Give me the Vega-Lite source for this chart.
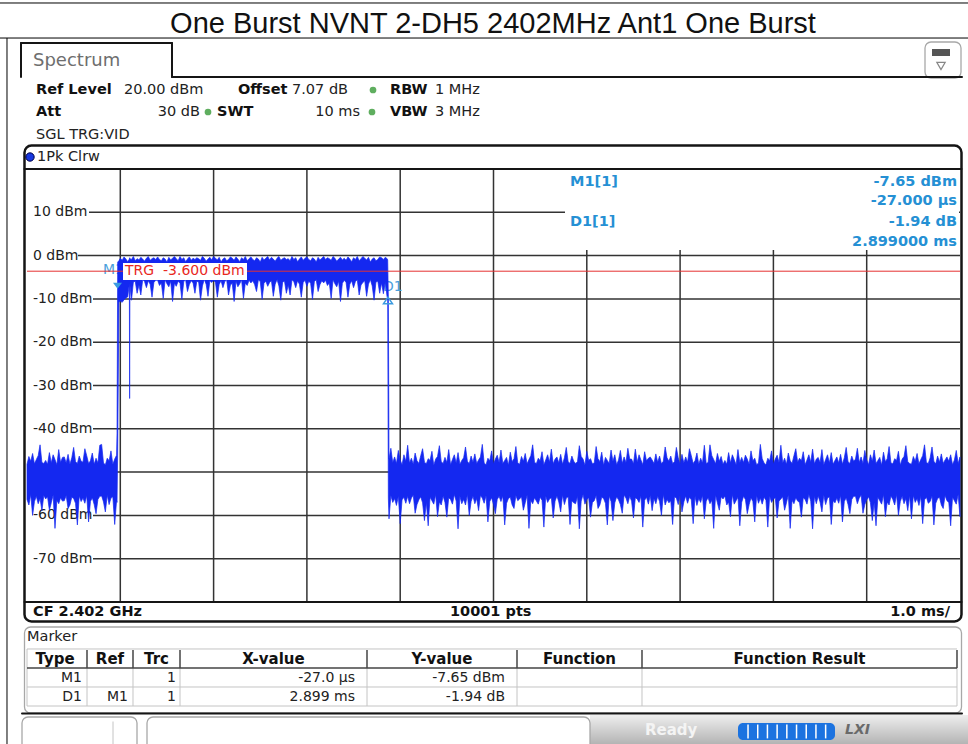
{
"$schema":"https://vega.github.io/schema/vega-lite/v6.json",
"width":933,"height":433,
"autosize":{"type":"none"},
"padding":{"left":27,"top":169,"right":8,"bottom":142},
"background":"white",
"config":{"view":{"stroke":null}},
"encoding":{
 "x":{"field":"x","type":"quantitative","scale":{"domain":[0,10],"nice":false,"zero":false},"axis":null},
 "y":{"field":"y","type":"quantitative","scale":{"domain":[-80,20],"nice":false,"zero":false},"axis":null}
},
"datasets":{
"trace":[
{"x":0,"y":-48.2,"y2":-56.3},{"x":0.02,"y":-46.4,"y2":-57.6},{"x":0.04,"y":-47.5,"y2":-55.2},{"x":0.06,"y":-45.7,"y2":-60},{"x":0.08,"y":-48.1,"y2":-56.8},{"x":0.1,"y":-47.1,"y2":-55.6},{"x":0.12,"y":-46.2,"y2":-57.3},{"x":0.14,"y":-43.7,"y2":-56.1},{"x":0.16,"y":-47.8,"y2":-58.9},{"x":0.18,"y":-48,"y2":-55.4},
{"x":0.2,"y":-47.3,"y2":-56.2},{"x":0.22,"y":-48.2,"y2":-55.7},{"x":0.24,"y":-45.5,"y2":-58.8},{"x":0.26,"y":-47.9,"y2":-57.1},{"x":0.28,"y":-46,"y2":-55.3},{"x":0.3,"y":-47.1,"y2":-63},{"x":0.32,"y":-48.3,"y2":-56.5},{"x":0.34,"y":-44.8,"y2":-57.3},{"x":0.36,"y":-47.8,"y2":-55.9},{"x":0.38,"y":-46.6,"y2":-56.7},
{"x":0.4,"y":-46.5,"y2":-56.6},{"x":0.42,"y":-47.9,"y2":-55.4},{"x":0.44,"y":-45.9,"y2":-58.4},{"x":0.46,"y":-48.2,"y2":-57.6},{"x":0.48,"y":-46.7,"y2":-55.8},{"x":0.5,"y":-44.3,"y2":-56.1},{"x":0.52,"y":-47.6,"y2":-57.2},{"x":0.54,"y":-48,"y2":-62.2},{"x":0.56,"y":-46.3,"y2":-55.5},{"x":0.58,"y":-47.5,"y2":-56.8},
{"x":0.6,"y":-47.7,"y2":-56},{"x":0.62,"y":-44.6,"y2":-57.2},{"x":0.64,"y":-46.2,"y2":-55.4},{"x":0.66,"y":-48,"y2":-61.5},{"x":0.68,"y":-47.4,"y2":-56.8},{"x":0.7,"y":-45.6,"y2":-55.9},{"x":0.72,"y":-48.2,"y2":-57.5},{"x":0.74,"y":-46.8,"y2":-59.6},{"x":0.76,"y":-47.9,"y2":-56.3},{"x":0.78,"y":-43.8,"y2":-55.6},
{"x":0.8,"y":-43.6,"y2":-55.5},{"x":0.82,"y":-47.9,"y2":-56.9},{"x":0.84,"y":-48.3,"y2":-59.2},{"x":0.86,"y":-46.8,"y2":-55.3},{"x":0.88,"y":-47.4,"y2":-57.5},{"x":0.9,"y":-45.1,"y2":-56},{"x":0.92,"y":-48.2,"y2":-55.7},{"x":0.94,"y":-47,"y2":-62.1},{"x":0.96,"y":-46.1,"y2":-56.6},
{"x":0.965,"y":-41,"y2":-57},{"x":0.972,"y":-1.5,"y2":-45},{"x":0.985,"y":-1.2,"y2":-10.8},
{"x":1.0,"y":-0.6,"y2":-10.5},{"x":1.02,"y":-1.1,"y2":-10.8},{"x":1.04,"y":-0.3,"y2":-10.2},{"x":1.06,"y":-0.8,"y2":-9.8},{"x":1.08,"y":-1.4,"y2":-9.5},{"x":1.097,"y":-0.8,"y2":-6.5},{"x":1.1,"y":-0.5,"y2":-33},{"x":1.103,"y":-0.7,"y2":-6.8},{"x":1.12,"y":-0.9,"y2":-10.3},{"x":1.14,"y":-0.2,"y2":-6.1},{"x":1.16,"y":-1.2,"y2":-5.9},{"x":1.18,"y":-0.7,"y2":-8.7},
{"x":1.2,"y":-1.0,"y2":-6.8},{"x":1.22,"y":-0.4,"y2":-9.1},{"x":1.24,"y":-0.8,"y2":-5.6},{"x":1.26,"y":-1.3,"y2":-6.0},{"x":1.28,"y":-0.6,"y2":-7.4},{"x":1.3,"y":-0.2,"y2":-5.8},{"x":1.32,"y":-1.1,"y2":-6.6},{"x":1.34,"y":-0.7,"y2":-9.6},{"x":1.36,"y":-0.5,"y2":-6.2},{"x":1.38,"y":-0.9,"y2":-5.7},
{"x":1.4,"y":-0.3,"y2":-5.7},{"x":1.42,"y":-0.9,"y2":-6.9},{"x":1.44,"y":-1.2,"y2":-6.3},{"x":1.46,"y":-0.5,"y2":-9.9},{"x":1.48,"y":-0.8,"y2":-5.6},{"x":1.5,"y":-1.5,"y2":-6.5},{"x":1.52,"y":-0.4,"y2":-7.2},{"x":1.54,"y":-1.0,"y2":-5.9},{"x":1.56,"y":-0.6,"y2":-10.6},{"x":1.58,"y":-0.2,"y2":-6.4},
{"x":1.6,"y":-0.7,"y2":-7.1},{"x":1.62,"y":-1.2,"y2":-5.9},{"x":1.64,"y":-0.2,"y2":-6.4},{"x":1.66,"y":-0.9,"y2":-10.1},{"x":1.68,"y":-0.5,"y2":-6.0},{"x":1.7,"y":-1.4,"y2":-5.6},{"x":1.72,"y":-0.8,"y2":-8.3},{"x":1.74,"y":-0.3,"y2":-6.7},{"x":1.76,"y":-1.1,"y2":-5.8},{"x":1.78,"y":-0.6,"y2":-6.3},
{"x":1.8,"y":-0.9,"y2":-8.7},{"x":1.82,"y":-0.5,"y2":-5.9},{"x":1.84,"y":-0.7,"y2":-6.1},{"x":1.86,"y":-1.1,"y2":-10.3},{"x":1.88,"y":-0.2,"y2":-7.0},{"x":1.9,"y":-0.6,"y2":-5.5},{"x":1.92,"y":-1.3,"y2":-6.6},{"x":1.94,"y":-0.8,"y2":-9.4},{"x":1.96,"y":-0.4,"y2":-5.8},{"x":1.98,"y":-1.0,"y2":-6.2},
{"x":2.0,"y":-0.2,"y2":-5.7},{"x":2.02,"y":-0.6,"y2":-6.2},{"x":2.04,"y":-1.0,"y2":-9.6},{"x":2.06,"y":-0.4,"y2":-6.6},{"x":2.08,"y":-1.5,"y2":-5.8},{"x":2.1,"y":-0.8,"y2":-7.4},{"x":2.12,"y":-0.5,"y2":-6.0},{"x":2.14,"y":-1.2,"y2":-5.6},{"x":2.16,"y":-0.9,"y2":-9.1},{"x":2.18,"y":-0.3,"y2":-6.8},
{"x":2.2,"y":-0.6,"y2":-6.4},{"x":2.22,"y":-1.1,"y2":-10.6},{"x":2.24,"y":-0.3,"y2":-5.9},{"x":2.26,"y":-0.8,"y2":-7.2},{"x":2.28,"y":-1.4,"y2":-6.5},{"x":2.3,"y":-0.5,"y2":-5.6},{"x":2.32,"y":-0.9,"y2":-9.9},{"x":2.34,"y":-0.2,"y2":-6.3},{"x":2.36,"y":-1.2,"y2":-6.9},{"x":2.38,"y":-0.7,"y2":-5.7},
{"x":2.4,"y":-0.3,"y2":-6.3},{"x":2.42,"y":-0.9,"y2":-5.8},{"x":2.44,"y":-1.2,"y2":-6.7},{"x":2.46,"y":-0.5,"y2":-8.3},{"x":2.48,"y":-0.8,"y2":-5.6},{"x":2.5,"y":-1.5,"y2":-6.0},{"x":2.52,"y":-0.4,"y2":-10.1},{"x":2.54,"y":-1.0,"y2":-6.4},{"x":2.56,"y":-0.6,"y2":-5.9},{"x":2.58,"y":-0.2,"y2":-7.1},
{"x":2.6,"y":-1.0,"y2":-6.2},{"x":2.62,"y":-0.4,"y2":-5.8},{"x":2.64,"y":-0.8,"y2":-9.4},{"x":2.66,"y":-1.3,"y2":-6.6},{"x":2.68,"y":-0.6,"y2":-5.5},{"x":2.7,"y":-0.2,"y2":-7.0},{"x":2.72,"y":-1.1,"y2":-10.3},{"x":2.74,"y":-0.7,"y2":-6.1},{"x":2.76,"y":-0.5,"y2":-5.9},{"x":2.78,"y":-0.9,"y2":-8.7},
{"x":2.8,"y":-0.7,"y2":-6.8},{"x":2.82,"y":-1.2,"y2":-9.1},{"x":2.84,"y":-0.2,"y2":-5.6},{"x":2.86,"y":-0.9,"y2":-6.0},{"x":2.88,"y":-0.5,"y2":-7.4},{"x":2.9,"y":-1.4,"y2":-5.8},{"x":2.92,"y":-0.8,"y2":-6.6},{"x":2.94,"y":-0.3,"y2":-9.6},{"x":2.96,"y":-1.1,"y2":-6.2},{"x":2.98,"y":-0.6,"y2":-5.7},
{"x":3.0,"y":-0.3,"y2":-7.1},{"x":3.02,"y":-0.9,"y2":-5.9},{"x":3.04,"y":-1.2,"y2":-6.4},{"x":3.06,"y":-0.5,"y2":-10.1},{"x":3.08,"y":-0.8,"y2":-6.0},{"x":3.1,"y":-1.5,"y2":-5.6},{"x":3.12,"y":-0.4,"y2":-8.3},{"x":3.14,"y":-1.0,"y2":-6.7},{"x":3.16,"y":-0.6,"y2":-5.8},{"x":3.18,"y":-0.2,"y2":-6.3},
{"x":3.2,"y":-0.9,"y2":-5.7},{"x":3.22,"y":-0.5,"y2":-6.9},{"x":3.24,"y":-0.7,"y2":-6.3},{"x":3.26,"y":-1.1,"y2":-9.9},{"x":3.28,"y":-0.2,"y2":-5.6},{"x":3.3,"y":-0.6,"y2":-6.5},{"x":3.32,"y":-1.3,"y2":-7.2},{"x":3.34,"y":-0.8,"y2":-5.9},{"x":3.36,"y":-0.4,"y2":-10.6},{"x":3.38,"y":-1.0,"y2":-6.4},
{"x":3.4,"y":-0.6,"y2":-5.7},{"x":3.42,"y":-1.1,"y2":-6.2},{"x":3.44,"y":-0.3,"y2":-9.6},{"x":3.46,"y":-0.8,"y2":-6.6},{"x":3.48,"y":-1.4,"y2":-5.8},{"x":3.5,"y":-0.5,"y2":-7.4},{"x":3.52,"y":-0.9,"y2":-6.0},{"x":3.54,"y":-0.2,"y2":-5.6},{"x":3.56,"y":-1.2,"y2":-9.1},{"x":3.58,"y":-0.7,"y2":-6.8},
{"x":3.6,"y":-0.2,"y2":-6.2},{"x":3.62,"y":-0.6,"y2":-5.8},{"x":3.64,"y":-1.0,"y2":-9.4},{"x":3.66,"y":-0.4,"y2":-6.6},{"x":3.68,"y":-1.5,"y2":-5.5},{"x":3.7,"y":-0.8,"y2":-7.0},{"x":3.72,"y":-0.5,"y2":-10.3},{"x":3.74,"y":-1.2,"y2":-6.1},{"x":3.76,"y":-0.9,"y2":-5.9},{"x":3.78,"y":-0.3,"y2":-8.7},
{"x":3.8,"y":-0.5,"y2":-6.3},{"x":3.82,"y":-0.9,"y2":-8.8},{"x":3.84,"y":-0.4,"y2":-6.0},{"x":3.86,"y":-0.7,"y2":-9.6},{"x":3.866,"y":-1.0,"y2":-9.7},{"x":3.873,"y":-9.8,"y2":-56},
{"x":3.88,"y":-47,"y2":-60.8},{"x":3.9,"y":-44.5,"y2":-55.4},{"x":3.92,"y":-47.8,"y2":-57},{"x":3.94,"y":-46.5,"y2":-56.1},{"x":3.96,"y":-48,"y2":-57.7},{"x":3.98,"y":-45,"y2":-55.6},{"x":4.0,"y":-47.2,"y2":-61.9},{"x":4.02,"y":-48.3,"y2":-56.4},{"x":4.04,"y":-46,"y2":-55.8},{"x":4.06,"y":-47.5,"y2":-57.2},
{"x":4.08,"y":-43.8,"y2":-55.6},{"x":4.1,"y":-47.9,"y2":-57.3},{"x":4.12,"y":-46.8,"y2":-56},{"x":4.14,"y":-48.2,"y2":-55.3},{"x":4.16,"y":-45.6,"y2":-59.5},{"x":4.18,"y":-47.4,"y2":-57.5},{"x":4.2,"y":-48,"y2":-56.4},{"x":4.22,"y":-46.2,"y2":-55.7},{"x":4.24,"y":-44.6,"y2":-57.1},{"x":4.26,"y":-47.7,"y2":-61.2},
{"x":4.28,"y":-48.1,"y2":-57},{"x":4.3,"y":-46.9,"y2":-62.4},{"x":4.32,"y":-47.3,"y2":-55.8},{"x":4.34,"y":-45.2,"y2":-56.6},{"x":4.36,"y":-48.4,"y2":-57.4},{"x":4.38,"y":-47,"y2":-55.2},{"x":4.4,"y":-46.4,"y2":-60.3},{"x":4.42,"y":-43.9,"y2":-56.9},{"x":4.44,"y":-47.6,"y2":-57.6},{"x":4.46,"y":-48,"y2":-55.5},
{"x":4.48,"y":-46.6,"y2":-57},{"x":4.5,"y":-47.8,"y2":-60.4},{"x":4.52,"y":-44.8,"y2":-55.9},{"x":4.54,"y":-48.3,"y2":-56.3},{"x":4.56,"y":-47.1,"y2":-57.4},{"x":4.58,"y":-46,"y2":-55.2},{"x":4.6,"y":-47.9,"y2":-56.7},{"x":4.62,"y":-45.5,"y2":-63.1},{"x":4.64,"y":-48.2,"y2":-55.6},{"x":4.66,"y":-47.3,"y2":-57.3},
{"x":4.68,"y":-46.7,"y2":-56.3},{"x":4.7,"y":-44.2,"y2":-57.6},{"x":4.72,"y":-47.5,"y2":-55.2},{"x":4.74,"y":-48.1,"y2":-60},{"x":4.76,"y":-46.3,"y2":-56.8},{"x":4.78,"y":-47.7,"y2":-55.6},{"x":4.8,"y":-45.8,"y2":-57.3},{"x":4.82,"y":-48,"y2":-56.1},{"x":4.84,"y":-47.2,"y2":-58.9},{"x":4.86,"y":-46.5,"y2":-55.4},
{"x":4.88,"y":-43.6,"y2":-56},{"x":4.9,"y":-47.9,"y2":-57.2},{"x":4.92,"y":-48.3,"y2":-55.4},{"x":4.94,"y":-46.8,"y2":-61.5},{"x":4.96,"y":-47.4,"y2":-56.8},{"x":4.98,"y":-45.1,"y2":-55.9},{"x":5.0,"y":-48.2,"y2":-57.5},{"x":5.02,"y":-47,"y2":-59.6},{"x":5.04,"y":-46.1,"y2":-56.3},{"x":5.06,"y":-47.8,"y2":-55.6},
{"x":5.08,"y":-44.9,"y2":-56.8},{"x":5.1,"y":-48,"y2":-55.5},{"x":5.12,"y":-47.3,"y2":-62.2},{"x":5.14,"y":-46.6,"y2":-57.2},{"x":5.16,"y":-48.4,"y2":-56.1},{"x":5.18,"y":-45.4,"y2":-55.8},{"x":5.2,"y":-47.6,"y2":-57.6},{"x":5.22,"y":-46.9,"y2":-58.4},{"x":5.24,"y":-44.1,"y2":-55.4},{"x":5.26,"y":-47.9,"y2":-56.6},
{"x":5.28,"y":-48.2,"y2":-56.2},{"x":5.3,"y":-46.4,"y2":-55.7},{"x":5.32,"y":-47.5,"y2":-58.8},{"x":5.34,"y":-45.7,"y2":-57.1},{"x":5.36,"y":-48.1,"y2":-55.3},{"x":5.38,"y":-47.1,"y2":-63},{"x":5.4,"y":-46.2,"y2":-56.5},{"x":5.42,"y":-43.7,"y2":-57.3},{"x":5.44,"y":-47.8,"y2":-55.9},{"x":5.46,"y":-48,"y2":-56.7},
{"x":5.48,"y":-46.8,"y2":-57.4},{"x":5.5,"y":-47.4,"y2":-55.8},{"x":5.52,"y":-45.3,"y2":-56.5},{"x":5.54,"y":-48.3,"y2":-62.7},{"x":5.56,"y":-47.2,"y2":-55.5},{"x":5.58,"y":-46,"y2":-57},{"x":5.6,"y":-47.7,"y2":-56.2},{"x":5.62,"y":-44.7,"y2":-55.9},{"x":5.64,"y":-48.1,"y2":-60.6},{"x":5.66,"y":-47,"y2":-56.7},
{"x":5.68,"y":-46.5,"y2":-55.5},{"x":5.7,"y":-47.9,"y2":-56.9},{"x":5.72,"y":-45.9,"y2":-59.2},{"x":5.74,"y":-48.2,"y2":-55.3},{"x":5.76,"y":-46.7,"y2":-57.5},{"x":5.78,"y":-44.3,"y2":-56},{"x":5.8,"y":-47.6,"y2":-55.7},{"x":5.82,"y":-48,"y2":-62.1},{"x":5.84,"y":-46.3,"y2":-56.6},{"x":5.86,"y":-47.5,"y2":-57.1},
{"x":5.88,"y":-48,"y2":-57.3},{"x":5.9,"y":-47.6,"y2":-55.6},{"x":5.92,"y":-43.9,"y2":-63.1},{"x":5.94,"y":-46.4,"y2":-56.7},{"x":5.96,"y":-47,"y2":-55.2},{"x":5.98,"y":-48.4,"y2":-57.4},{"x":6.0,"y":-45.2,"y2":-56.3},{"x":6.02,"y":-47.3,"y2":-55.9},{"x":6.04,"y":-46.9,"y2":-60.4},{"x":6.06,"y":-48.1,"y2":-57},
{"x":6.08,"y":-47.9,"y2":-56.6},{"x":6.1,"y":-44.1,"y2":-55.4},{"x":6.12,"y":-46.9,"y2":-58.4},{"x":6.14,"y":-47.6,"y2":-57.6},{"x":6.16,"y":-45.4,"y2":-55.8},{"x":6.18,"y":-48.4,"y2":-56.1},{"x":6.2,"y":-46.6,"y2":-57.2},{"x":6.22,"y":-47.3,"y2":-62.2},{"x":6.24,"y":-48,"y2":-55.5},{"x":6.26,"y":-44.9,"y2":-56.8},
{"x":6.28,"y":-47.5,"y2":-61.2},{"x":6.3,"y":-46,"y2":-57.1},{"x":6.32,"y":-48.3,"y2":-55.7},{"x":6.34,"y":-47.2,"y2":-56.4},{"x":6.36,"y":-45,"y2":-57.5},{"x":6.38,"y":-48,"y2":-59.5},{"x":6.4,"y":-46.5,"y2":-55.3},{"x":6.42,"y":-47.8,"y2":-56},{"x":6.44,"y":-44.5,"y2":-57.3},{"x":6.46,"y":-47,"y2":-55.6},
{"x":6.48,"y":-47,"y2":-56.7},{"x":6.5,"y":-48.1,"y2":-60.6},{"x":6.52,"y":-44.7,"y2":-55.9},{"x":6.54,"y":-47.7,"y2":-56.2},{"x":6.56,"y":-46,"y2":-57},{"x":6.58,"y":-47.2,"y2":-55.5},{"x":6.6,"y":-48.3,"y2":-62.7},{"x":6.62,"y":-45.3,"y2":-56.5},{"x":6.64,"y":-47.4,"y2":-55.8},{"x":6.66,"y":-46.8,"y2":-57.4},
{"x":6.68,"y":-46.5,"y2":-55.4},{"x":6.7,"y":-47.2,"y2":-58.9},{"x":6.72,"y":-48,"y2":-56.1},{"x":6.74,"y":-45.8,"y2":-57.3},{"x":6.76,"y":-47.7,"y2":-55.6},{"x":6.78,"y":-46.3,"y2":-56.8},{"x":6.8,"y":-48.1,"y2":-60},{"x":6.82,"y":-47.5,"y2":-55.2},{"x":6.84,"y":-44.2,"y2":-57.6},{"x":6.86,"y":-46.7,"y2":-56.3},
{"x":6.88,"y":-47.5,"y2":-57.1},{"x":6.9,"y":-46.3,"y2":-56.6},{"x":6.92,"y":-48,"y2":-62.1},{"x":6.94,"y":-47.6,"y2":-55.7},{"x":6.96,"y":-44.3,"y2":-56},{"x":6.98,"y":-46.7,"y2":-57.5},{"x":7.0,"y":-48.2,"y2":-55.3},{"x":7.02,"y":-45.9,"y2":-59.2},{"x":7.04,"y":-47.9,"y2":-56.9},{"x":7.06,"y":-46.5,"y2":-55.5},
{"x":7.08,"y":-47.7,"y2":-57.2},{"x":7.1,"y":-44.6,"y2":-55.8},{"x":7.12,"y":-46.2,"y2":-56.4},{"x":7.14,"y":-48,"y2":-61.9},{"x":7.16,"y":-47.4,"y2":-55.6},{"x":7.18,"y":-45.6,"y2":-57.7},{"x":7.2,"y":-48.2,"y2":-56.1},{"x":7.22,"y":-46.8,"y2":-57},{"x":7.24,"y":-47.9,"y2":-55.4},{"x":7.26,"y":-43.8,"y2":-60.8},
{"x":7.28,"y":-48,"y2":-56.7},{"x":7.3,"y":-47.8,"y2":-55.9},{"x":7.32,"y":-43.7,"y2":-57.3},{"x":7.34,"y":-46.2,"y2":-56.5},{"x":7.36,"y":-47.1,"y2":-63},{"x":7.38,"y":-48.1,"y2":-55.3},{"x":7.4,"y":-45.7,"y2":-57.1},{"x":7.42,"y":-47.5,"y2":-58.8},{"x":7.44,"y":-46.4,"y2":-55.7},{"x":7.46,"y":-48.2,"y2":-56.2},
{"x":7.48,"y":-47.3,"y2":-55.5},{"x":7.5,"y":-48.2,"y2":-57.6},{"x":7.52,"y":-45.5,"y2":-56.9},{"x":7.54,"y":-47.9,"y2":-60.3},{"x":7.56,"y":-46,"y2":-55.2},{"x":7.58,"y":-47.1,"y2":-57.4},{"x":7.6,"y":-48.3,"y2":-56.6},{"x":7.62,"y":-44.8,"y2":-55.8},{"x":7.64,"y":-47.8,"y2":-62.4},{"x":7.66,"y":-46.6,"y2":-57},
{"x":7.68,"y":-47.8,"y2":-55.6},{"x":7.7,"y":-46.1,"y2":-56.3},{"x":7.72,"y":-47,"y2":-59.6},{"x":7.74,"y":-48.2,"y2":-57.5},{"x":7.76,"y":-45.1,"y2":-55.9},{"x":7.78,"y":-47.4,"y2":-56.8},{"x":7.8,"y":-46.8,"y2":-61.5},{"x":7.82,"y":-48.3,"y2":-55.4},{"x":7.84,"y":-47.9,"y2":-57.2},{"x":7.86,"y":-43.6,"y2":-56},
{"x":7.88,"y":-46.9,"y2":-57.4},{"x":7.9,"y":-47.9,"y2":-55.8},{"x":7.92,"y":-48.3,"y2":-56.5},{"x":7.94,"y":-46.8,"y2":-62.7},{"x":7.96,"y":-47.4,"y2":-55.5},{"x":7.98,"y":-45.1,"y2":-57},{"x":8.0,"y":-48.2,"y2":-56.2},{"x":8.02,"y":-47,"y2":-55.9},{"x":8.04,"y":-46.1,"y2":-60.6},{"x":8.06,"y":-47.8,"y2":-56.7},
{"x":8.08,"y":-43.8,"y2":-56.2},{"x":8.1,"y":-47.9,"y2":-55.7},{"x":8.12,"y":-46.8,"y2":-58.8},{"x":8.14,"y":-48.2,"y2":-57.1},{"x":8.16,"y":-45.6,"y2":-55.3},{"x":8.18,"y":-47.4,"y2":-63},{"x":8.2,"y":-48,"y2":-56.5},{"x":8.22,"y":-46.2,"y2":-57.3},{"x":8.24,"y":-44.6,"y2":-55.9},{"x":8.26,"y":-47.7,"y2":-56.7},
{"x":8.28,"y":-46.8,"y2":-57},{"x":8.3,"y":-47.4,"y2":-60.4},{"x":8.32,"y":-45.3,"y2":-55.9},{"x":8.34,"y":-48.3,"y2":-56.3},{"x":8.36,"y":-47.2,"y2":-57.4},{"x":8.38,"y":-46,"y2":-55.2},{"x":8.4,"y":-47.7,"y2":-56.7},{"x":8.42,"y":-44.7,"y2":-63.1},{"x":8.44,"y":-48.1,"y2":-55.6},{"x":8.46,"y":-47,"y2":-57.3},
{"x":8.48,"y":-46.6,"y2":-55.5},{"x":8.5,"y":-47.8,"y2":-56.9},{"x":8.52,"y":-44.8,"y2":-59.2},{"x":8.54,"y":-48.3,"y2":-55.3},{"x":8.56,"y":-47.1,"y2":-57.5},{"x":8.58,"y":-46,"y2":-56},{"x":8.6,"y":-47.9,"y2":-55.7},{"x":8.62,"y":-45.5,"y2":-62.1},{"x":8.64,"y":-48.2,"y2":-56.6},{"x":8.66,"y":-47.3,"y2":-57.1},
{"x":8.68,"y":-46.5,"y2":-56},{"x":8.7,"y":-47.9,"y2":-57.2},{"x":8.72,"y":-45.9,"y2":-55.4},{"x":8.74,"y":-48.2,"y2":-61.5},{"x":8.76,"y":-46.7,"y2":-56.8},{"x":8.78,"y":-44.3,"y2":-55.9},{"x":8.8,"y":-47.6,"y2":-57.5},{"x":8.82,"y":-48,"y2":-59.6},{"x":8.84,"y":-46.3,"y2":-56.3},{"x":8.86,"y":-47.5,"y2":-55.6},
{"x":8.88,"y":-47,"y2":-55.6},{"x":8.9,"y":-44.5,"y2":-57.3},{"x":8.92,"y":-47.8,"y2":-56},{"x":8.94,"y":-46.5,"y2":-55.3},{"x":8.96,"y":-48,"y2":-59.5},{"x":8.98,"y":-45,"y2":-57.5},{"x":9.0,"y":-47.2,"y2":-56.4},{"x":9.02,"y":-48.3,"y2":-55.7},{"x":9.04,"y":-46,"y2":-57.1},{"x":9.06,"y":-47.5,"y2":-61.2},
{"x":9.08,"y":-44.9,"y2":-57},{"x":9.1,"y":-48,"y2":-62.4},{"x":9.12,"y":-47.3,"y2":-55.8},{"x":9.14,"y":-46.6,"y2":-56.6},{"x":9.16,"y":-48.4,"y2":-57.4},{"x":9.18,"y":-45.4,"y2":-55.2},{"x":9.2,"y":-47.6,"y2":-60.3},{"x":9.22,"y":-46.9,"y2":-56.9},{"x":9.24,"y":-44.1,"y2":-57.6},{"x":9.26,"y":-47.9,"y2":-55.5},
{"x":9.28,"y":-48.1,"y2":-56.3},{"x":9.3,"y":-46.9,"y2":-57.6},{"x":9.32,"y":-47.3,"y2":-55.2},{"x":9.34,"y":-45.2,"y2":-60},{"x":9.36,"y":-48.4,"y2":-56.8},{"x":9.38,"y":-47,"y2":-55.6},{"x":9.4,"y":-46.4,"y2":-57.3},{"x":9.42,"y":-43.9,"y2":-56.1},{"x":9.44,"y":-47.6,"y2":-58.9},{"x":9.46,"y":-48,"y2":-55.4},
{"x":9.48,"y":-48.2,"y2":-60.8},{"x":9.5,"y":-46.4,"y2":-55.4},{"x":9.52,"y":-47.5,"y2":-57},{"x":9.54,"y":-45.7,"y2":-56.1},{"x":9.56,"y":-48.1,"y2":-57.7},{"x":9.58,"y":-47.1,"y2":-55.6},{"x":9.6,"y":-46.2,"y2":-61.9},{"x":9.62,"y":-43.7,"y2":-56.4},{"x":9.64,"y":-47.8,"y2":-55.8},{"x":9.66,"y":-48,"y2":-57.2},
{"x":9.68,"y":-46.7,"y2":-56.8},{"x":9.7,"y":-44.2,"y2":-55.5},{"x":9.72,"y":-47.5,"y2":-62.2},{"x":9.74,"y":-48.1,"y2":-57.2},{"x":9.76,"y":-46.3,"y2":-56.1},{"x":9.78,"y":-47.7,"y2":-55.8},{"x":9.8,"y":-45.8,"y2":-57.6},{"x":9.82,"y":-48,"y2":-58.4},{"x":9.84,"y":-47.2,"y2":-55.4},{"x":9.86,"y":-46.5,"y2":-56.6},
{"x":9.88,"y":-47.5,"y2":-57},{"x":9.9,"y":-46,"y2":-62.4},{"x":9.92,"y":-48.3,"y2":-55.8},{"x":9.94,"y":-47.2,"y2":-56.6},{"x":9.96,"y":-45,"y2":-57.4},{"x":9.98,"y":-48,"y2":-55.2},{"x":10.0,"y":-46.5,"y2":-60.3}
],
"grid":[
{"x":1,"x2":1,"y":20,"y2":-80},{"x":2,"x2":2,"y":20,"y2":-80},{"x":3,"x2":3,"y":20,"y2":-80},{"x":4,"x2":4,"y":20,"y2":-80},{"x":5,"x2":5,"y":20,"y2":-80},{"x":6,"x2":6,"y":20,"y2":-80},{"x":7,"x2":7,"y":20,"y2":-80},{"x":8,"x2":8,"y":20,"y2":-80},{"x":9,"x2":9,"y":20,"y2":-80},
{"x":0.6645,"x2":10,"y":10,"y2":10},{"x":0.5466,"x2":10,"y":0,"y2":0},{"x":0.7074,"x2":10,"y":-10,"y2":-10},{"x":0.7074,"x2":10,"y":-20,"y2":-20},{"x":0.7074,"x2":10,"y":-30,"y2":-30},{"x":0.7074,"x2":10,"y":-40,"y2":-40},{"x":0.7074,"x2":10,"y":-50,"y2":-50},{"x":0.7074,"x2":10,"y":-60,"y2":-60},{"x":0.7074,"x2":10,"y":-70,"y2":-70}
],
"yLabels":[
{"x":0.0643,"y":10,"text":"10 dBm"},{"x":0.0643,"y":0,"text":"0 dBm"},{"x":0.0643,"y":-10,"text":"-10 dBm"},{"x":0.0643,"y":-20,"text":"-20 dBm"},{"x":0.0643,"y":-30,"text":"-30 dBm"},{"x":0.0643,"y":-40,"text":"-40 dBm"},{"x":0.0643,"y":-50,"text":"-50 dBm"},{"x":0.0643,"y":-60,"text":"-60 dBm"},{"x":0.0643,"y":-70,"text":"-70 dBm"}
],
"infoBox":[{"x":5.7663,"x2":9.9893,"y":19.77,"y2":1.29}],
"thinLines":[
{"x":-0.2894,"x2":10.0858,"y":58.34,"y2":58.34},{"x":-0.2894,"x2":10.0858,"y":50.25,"y2":50.25},{"x":-0.2144,"x2":-0.2144,"y":50.25,"y2":-112.8}
],
"darkLines":[
{"x":-0.0643,"x2":-0.0643,"y":41.25,"y2":49.1},{"x":-0.0643,"x2":1.5541,"y":49.1,"y2":49.1},{"x":1.5541,"x2":1.5541,"y":49.1,"y2":41.25},{"x":1.5541,"x2":10.0214,"y":41.25,"y2":41.25},
{"x":-0.0268,"x2":10.0161,"y":20,"y2":20},{"x":-0.0268,"x2":10.0161,"y":-80,"y2":-80},{"x":-0.0536,"x2":10.0214,"y":-105.75,"y2":-105.75}
],
"panelBox":[{"x":-0.0268,"x2":10.0161,"y":25.43,"y2":-84.5}],
"lightBoxes":[
{"x":-0.0268,"x2":10.0161,"y":-85.77,"y2":-105.64},
{"x":-0.0536,"x2":1.179,"y":-106.56,"y2":-115},
{"x":1.2862,"x2":6.0343,"y":-106.56,"y2":-115},
{"x":9.6249,"x2":10.0107,"y":49.33,"y2":41.02}
],
"statusBg":[{"x":6.0343,"x2":10.0858,"y":-106.1,"y2":-112.8}],
"progress":[{"x":7.6206,"x2":8.6602,"y":-107.94,"y2":-111.87}],
"progSep":[
{"x":7.728,"x2":7.728,"y":-108.3,"y2":-111.5},{"x":7.832,"x2":7.832,"y":-108.3,"y2":-111.5},{"x":7.936,"x2":7.936,"y":-108.3,"y2":-111.5},{"x":8.04,"x2":8.04,"y":-108.3,"y2":-111.5},{"x":8.144,"x2":8.144,"y":-108.3,"y2":-111.5},{"x":8.248,"x2":8.248,"y":-108.3,"y2":-111.5},{"x":8.352,"x2":8.352,"y":-108.3,"y2":-111.5},{"x":8.456,"x2":8.456,"y":-108.3,"y2":-111.5},{"x":8.56,"x2":8.56,"y":-108.3,"y2":-111.5}
],
"iconBar":[{"x":9.7,"x2":9.8928,"y":47.71,"y2":46.1}],
"iconTri":[{"x":9.7964,"y":43.79}],
"tableDark":[
{"x":0.6431,"x2":0.6431,"y":-91.09,"y2":-95.24},{"x":1.1361,"x2":1.1361,"y":-91.09,"y2":-95.24},{"x":1.6399,"x2":1.6399,"y":-91.09,"y2":-95.24},{"x":3.6442,"x2":3.6442,"y":-91.09,"y2":-95.24},{"x":5.2519,"x2":5.2519,"y":-91.09,"y2":-95.24},{"x":6.5916,"x2":6.5916,"y":-91.09,"y2":-95.24},{"x":9.9678,"x2":9.9678,"y":-91.09,"y2":-95.24},
{"x":0,"x2":9.9678,"y":-95.24,"y2":-95.24}
],
"tableLight":[
{"x":0,"x2":9.9678,"y":-90.85,"y2":-90.85},{"x":0,"x2":9.9678,"y":-99.63,"y2":-99.63},{"x":0,"x2":9.9678,"y":-104.02,"y2":-104.02},
{"x":0,"x2":0,"y":-90.85,"y2":-104.02},{"x":0.6431,"x2":0.6431,"y":-95.24,"y2":-104.02},{"x":1.1361,"x2":1.1361,"y":-95.24,"y2":-104.02},{"x":1.6399,"x2":1.6399,"y":-95.24,"y2":-104.02},{"x":3.6442,"x2":3.6442,"y":-95.24,"y2":-104.02},{"x":5.2519,"x2":5.2519,"y":-95.24,"y2":-104.02},{"x":6.5916,"x2":6.5916,"y":-95.24,"y2":-104.02},{"x":9.9678,"x2":9.9678,"y":-95.24,"y2":-104.02},
{"x":0.9218,"x2":0.9218,"y":-107.6,"y2":-112.8}
],
"titleText":[{"x":4.9946,"y":51.5,"text":"One Burst NVNT 2-DH5 2402MHz Ant1 One Burst"}],
"tabText":[{"x":0.0643,"y":44.94,"text":"Spectrum"}],
"boldL":[
{"x":0.0965,"y":38.24,"text":"Ref Level"},{"x":2.2615,"y":38.24,"text":"Offset"},{"x":3.8907,"y":38.24,"text":"RBW"},
{"x":0.0965,"y":33.16,"text":"Att"},{"x":2.0364,"y":33.16,"text":"SWT"},{"x":3.8907,"y":33.16,"text":"VBW"},
{"x":0.0643,"y":-82.42,"text":"CF 2.402 GHz"},{"x":4.5338,"y":-82.42,"text":"10001 pts"}
],
"boldR":[{"x":9.8928,"y":-82.42,"text":"1.0 ms/"}],
"normL":[
{"x":1.0397,"y":38.24,"text":"20.00 dBm"},{"x":2.8403,"y":38.24,"text":"7.07 dB"},{"x":4.373,"y":38.24,"text":"1 MHz"},
{"x":4.373,"y":33.16,"text":"3 MHz"},{"x":0.0965,"y":27.85,"text":"SGL TRG:VID"},{"x":0.1072,"y":22.77,"text":"1Pk Clrw"},
{"x":0.0,"y":-88.08,"text":"Marker"}
],
"normR":[{"x":1.8542,"y":33.16,"text":"30 dB"},{"x":3.5691,"y":33.16,"text":"10 ms"}],
"greenDots":[{"x":3.7085,"y":38.24},{"x":1.94,"y":33.16},{"x":3.6977,"y":33.16}],
"blueDot":[{"x":0.0322,"y":22.77}],
"tableHead":[
{"x":0.3001,"y":-93.05,"text":"Type"},{"x":0.8896,"y":-93.05,"text":"Ref"},{"x":1.388,"y":-93.05,"text":"Trc"},{"x":2.642,"y":-93.05,"text":"X-value"},{"x":4.448,"y":-93.05,"text":"Y-value"},{"x":5.9218,"y":-93.05,"text":"Function"},{"x":8.2797,"y":-93.05,"text":"Function Result"}
],
"tableData":[
{"x":0.5895,"y":-97.55,"text":"M1"},{"x":1.597,"y":-97.55,"text":"1"},{"x":3.5156,"y":-97.55,"text":"-27.0 µs"},{"x":5.1233,"y":-97.55,"text":"-7.65 dBm"},
{"x":0.5895,"y":-101.94,"text":"D1"},{"x":1.0825,"y":-101.94,"text":"M1"},{"x":1.597,"y":-101.94,"text":"1"},{"x":3.5156,"y":-101.94,"text":"2.899 ms"},{"x":5.1233,"y":-101.94,"text":"-1.94 dB"}
],
"readyText":[{"x":6.6238,"y":-109.56,"text":"Ready"}],
"lxiText":[{"x":8.7674,"y":-109.56,"text":"LXI"}],
"trgLine":[{"x":0,"x2":10,"y":-3.6,"y2":-3.6}],
"markerLabels":[{"x":0.8146,"y":-3.33,"text":"M1"},{"x":3.8156,"y":-7.25,"text":"D1"}],
"trgBox":[{"x":1.029,"x2":2.358,"y":-1.71,"y2":-5.63}],
"trgText":[{"x":1.05,"y":-3.56,"text":"TRG\u00a0 -3.600 dBm"}],
"m1":[{"x":0.97,"y":-7.65}],
"d1":[{"x":3.869,"y":-9.59}],
"infoL":[{"x":5.8199,"y":17.0,"text":"M1[1]"},{"x":5.8199,"y":7.76,"text":"D1[1]"}],
"infoR":[
{"x":9.9678,"y":17.0,"text":"-7.65 dBm"},{"x":9.9678,"y":12.61,"text":"-27.000 µs"},{"x":9.9678,"y":7.76,"text":"-1.94 dB"},{"x":9.9678,"y":3.14,"text":"2.899000 ms"}
]
},
"layer":[
{"data":{"name":"statusBg"},"mark":{"type":"rect","fill":{"gradient":"linear","x1":0,"y1":0,"x2":0,"y2":1,"stops":[{"offset":0,"color":"#eeeeee"},{"offset":1,"color":"#b4b4b4"}]}},"encoding":{"x2":{"field":"x2"},"y2":{"field":"y2"}}},
{"data":{"name":"lightBoxes"},"mark":{"type":"rect","filled":false,"color":"#a8a8a8","strokeWidth":1.3,"cornerRadius":6},"encoding":{"x2":{"field":"x2"},"y2":{"field":"y2"}}},
{"data":{"name":"panelBox"},"mark":{"type":"rect","filled":false,"color":"#151515","strokeWidth":2.5,"cornerRadius":7},"encoding":{"x2":{"field":"x2"},"y2":{"field":"y2"}}},
{"data":{"name":"progress"},"mark":{"type":"rect","color":"#1c73e0","cornerRadius":5},"encoding":{"x2":{"field":"x2"},"y2":{"field":"y2"}}},
{"data":{"name":"progSep"},"mark":{"type":"rule","color":"#ffffff","strokeWidth":1.5},"encoding":{"x2":{"field":"x2"},"y2":{"field":"y2"}}},
{"data":{"name":"iconBar"},"mark":{"type":"rect","color":"#555555"},"encoding":{"x2":{"field":"x2"},"y2":{"field":"y2"}}},
{"data":{"name":"iconTri"},"mark":{"type":"point","shape":"triangle-down","size":70,"filled":false,"color":"#555555","strokeWidth":1.2}},
{"data":{"name":"grid"},"mark":{"type":"rule","color":"#333333","strokeWidth":1.5},"encoding":{"x2":{"field":"x2"},"y2":{"field":"y2"}}},
{"data":{"name":"infoBox"},"mark":{"type":"rect","color":"#ffffff"},"encoding":{"x2":{"field":"x2"},"y2":{"field":"y2"}}},
{"data":{"name":"thinLines"},"mark":{"type":"rule","color":"#000000","strokeWidth":1},"encoding":{"x2":{"field":"x2"},"y2":{"field":"y2"}}},
{"data":{"name":"darkLines"},"mark":{"type":"rule","color":"#151515","strokeWidth":2,"strokeCap":"round"},"encoding":{"x2":{"field":"x2"},"y2":{"field":"y2"}}},
{"data":{"name":"tableLight"},"mark":{"type":"rule","color":"#c4c4c4","strokeWidth":1},"encoding":{"x2":{"field":"x2"},"y2":{"field":"y2"}}},
{"data":{"name":"tableDark"},"mark":{"type":"rule","color":"#444444","strokeWidth":1.5},"encoding":{"x2":{"field":"x2"},"y2":{"field":"y2"}}},
{"data":{"name":"titleText"},"mark":{"type":"text","font":"Liberation Sans","fontSize":29,"align":"center","baseline":"alphabetic","color":"#111111"},"encoding":{"text":{"field":"text"}}},
{"data":{"name":"tabText"},"mark":{"type":"text","font":"DejaVu Sans","fontSize":18,"align":"left","baseline":"middle","color":"#6e6e6e"},"encoding":{"text":{"field":"text"}}},
{"data":{"name":"boldL"},"mark":{"type":"text","font":"DejaVu Sans","fontSize":14.5,"fontWeight":"bold","align":"left","baseline":"middle","color":"#111111"},"encoding":{"text":{"field":"text"}}},
{"data":{"name":"boldR"},"mark":{"type":"text","font":"DejaVu Sans","fontSize":14.5,"fontWeight":"bold","align":"right","baseline":"middle","color":"#111111"},"encoding":{"text":{"field":"text"}}},
{"data":{"name":"normL"},"mark":{"type":"text","font":"DejaVu Sans","fontSize":14.5,"align":"left","baseline":"middle","color":"#222222"},"encoding":{"text":{"field":"text"}}},
{"data":{"name":"normR"},"mark":{"type":"text","font":"DejaVu Sans","fontSize":14.5,"align":"right","baseline":"middle","color":"#222222"},"encoding":{"text":{"field":"text"}}},
{"data":{"name":"greenDots"},"mark":{"type":"point","shape":"circle","size":45,"filled":true,"color":"#5fae5f","opacity":1}},
{"data":{"name":"blueDot"},"mark":{"type":"point","shape":"circle","size":70,"filled":true,"color":"#1838e0","stroke":"#000044","strokeWidth":1,"opacity":1}},
{"data":{"name":"tableHead"},"mark":{"type":"text","font":"DejaVu Sans","fontSize":15,"fontWeight":"bold","align":"center","baseline":"middle","color":"#111111"},"encoding":{"text":{"field":"text"}}},
{"data":{"name":"tableData"},"mark":{"type":"text","font":"DejaVu Sans","fontSize":14,"align":"right","baseline":"middle","color":"#222222"},"encoding":{"text":{"field":"text"}}},
{"data":{"name":"readyText"},"mark":{"type":"text","font":"DejaVu Sans","fontSize":15,"fontWeight":"bold","align":"left","baseline":"middle","color":"#f4f4f4"},"encoding":{"text":{"field":"text"}}},
{"data":{"name":"lxiText"},"mark":{"type":"text","font":"DejaVu Sans","fontSize":14,"fontWeight":"bold","fontStyle":"italic","align":"left","baseline":"middle","color":"#6a6a6a"},"encoding":{"text":{"field":"text"}}},
{"data":{"name":"yLabels"},"mark":{"type":"text","font":"DejaVu Sans","fontSize":14,"align":"left","baseline":"middle","color":"#222222"},"encoding":{"text":{"field":"text"}}},
{"data":{"name":"markerLabels"},"mark":{"type":"text","font":"DejaVu Sans","fontSize":14,"align":"left","baseline":"middle","color":"#4aa0dc"},"encoding":{"text":{"field":"text"}}},
{"data":{"name":"trace"},"mark":{"type":"area","color":"#1428f0","stroke":"#1428f0","strokeWidth":0.7},"encoding":{"y2":{"field":"y2"}}},
{"data":{"name":"trgLine"},"mark":{"type":"rule","color":"#e53030","strokeWidth":1},"encoding":{"x2":{"field":"x2"},"y2":{"field":"y2"}}},
{"data":{"name":"trgBox"},"mark":{"type":"rect","color":"#ffffff"},"encoding":{"x2":{"field":"x2"},"y2":{"field":"y2"}}},
{"data":{"name":"trgText"},"mark":{"type":"text","font":"DejaVu Sans","fontSize":14,"align":"left","baseline":"middle","color":"#e8281e"},"encoding":{"text":{"field":"text"}}},
{"data":{"name":"m1"},"mark":{"type":"point","shape":"M-1.5,-2L1.5,-2L0,0Z","size":36,"filled":true,"color":"#3b9be0","opacity":1}},
{"data":{"name":"d1"},"mark":{"type":"point","shape":"M0,0L1.5,2.2L-1.5,2.2Z","size":36,"filled":false,"color":"#3b9be0","strokeWidth":1.5,"opacity":1}},
{"data":{"name":"infoL"},"mark":{"type":"text","font":"DejaVu Sans","fontSize":14.5,"fontWeight":"bold","align":"left","baseline":"middle","color":"#2590d4"},"encoding":{"text":{"field":"text"}}},
{"data":{"name":"infoR"},"mark":{"type":"text","font":"DejaVu Sans","fontSize":14.5,"fontWeight":"bold","align":"right","baseline":"middle","color":"#2590d4"},"encoding":{"text":{"field":"text"}}}
]
}
